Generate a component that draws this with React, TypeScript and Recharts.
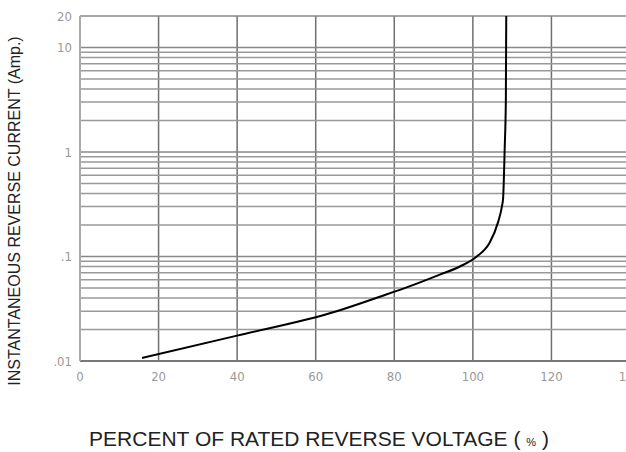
import {
  LineChart, Line, XAxis, YAxis, ReferenceLine, CartesianGrid
} from 'recharts'

// percent of rated reverse voltage vs instantaneous reverse current (A)
const voltage = [15.8, 40, 64.9, 76.3, 84, 91.6, 96.7, 101.0, 104.3, 106.4, 107.4, 107.7, 108.1, 108.4, 108.5]
const current = [0.0107, 0.0175, 0.0296, 0.0412, 0.052, 0.0671, 0.0802, 0.1, 0.136, 0.212, 0.302, 0.36, 1.07, 3.2, 20]

const xTicks = [0, 20, 40, 60, 80, 100, 120, 140]
const yTicks = [0.01, 0.1, 1, 10, 20]
const yTickLabels = ['.01', '.1', '1', '10', '20']

const data = voltage.map((v, i) => ({ v, i: current[i] }))

// minor log grid: 2..9 per decade
const minorGrid: number[] = []
for (const d of [0.01, 0.1, 1]) {
  for (let k = 2; k <= 9; k++) minorGrid.push(+(d * k).toPrecision(3))
}
const majorGrid = [0.1, 1, 10, 20]

const font = '"Liberation Sans", Arial, sans-serif'
const tickFont = '"Liberation Sans Narrow", "DejaVu Sans Condensed", "Liberation Sans", sans-serif'

export default function App() {
  return (
    <div style={{ position: 'relative', width: 626, height: 452, overflow: 'hidden', background: '#fff', fontFamily: font }}>
      <style>{'html,body{margin:0;padding:0;overflow:hidden}'}</style>
      <LineChart width={640} height={452} data={data} margin={{ top: 16, right: 10, bottom: 0, left: 30 }}>
        <CartesianGrid horizontal={false} stroke="#707070" strokeWidth={1.5} verticalValues={xTicks} />
        <XAxis
          dataKey="v" type="number" domain={[0, 140]} ticks={xTicks} interval={0}
          height={91} tickLine={false} axisLine={{ stroke: '#777', strokeWidth: 2 }} tickMargin={5}
          tick={{ fontSize: 13, fill: '#999', fontFamily: tickFont }}
        />
        <YAxis
          dataKey="i" type="number" scale="log" domain={[0.01, 20]} allowDataOverflow ticks={yTicks} interval={0}
          width={50} tickLine={false} axisLine={{ stroke: '#aaa', strokeWidth: 2 }}
          tickFormatter={(t: number) => yTickLabels[yTicks.indexOf(t)] ?? ''}
          tick={{ fontSize: 13, fill: '#999', fontFamily: tickFont }}
        />
        {minorGrid.map(g => (
          <ReferenceLine key={'m' + g} y={g} stroke="#999" strokeWidth={1.5} ifOverflow="hidden" />
        ))}
        {majorGrid.map(g => (
          <ReferenceLine key={'M' + g} y={g} stroke="#888" strokeWidth={1.5} ifOverflow="visible" />
        ))}
        <Line type="monotone" dataKey="i" stroke="#000" strokeWidth={2} dot={false} isAnimationActive={false} />
      </LineChart>
      <div style={{ position: 'absolute', left: 15, top: 211, transform: 'translate(-50%, -50%) rotate(-90deg)', whiteSpace: 'nowrap', fontSize: 16, lineHeight: '18px', color: '#222' }}>
        INSTANTANEOUS REVERSE CURRENT (Amp.)
      </div>
      <div style={{ position: 'absolute', left: 319, top: 428, transform: 'translateX(-50%)', whiteSpace: 'nowrap', fontSize: 21, lineHeight: '22px', color: '#222' }}>
        PERCENT OF RATED REVERSE VOLTAGE ( <span style={{ fontSize: 11 }}>%</span> )
      </div>
    </div>
  )
}
